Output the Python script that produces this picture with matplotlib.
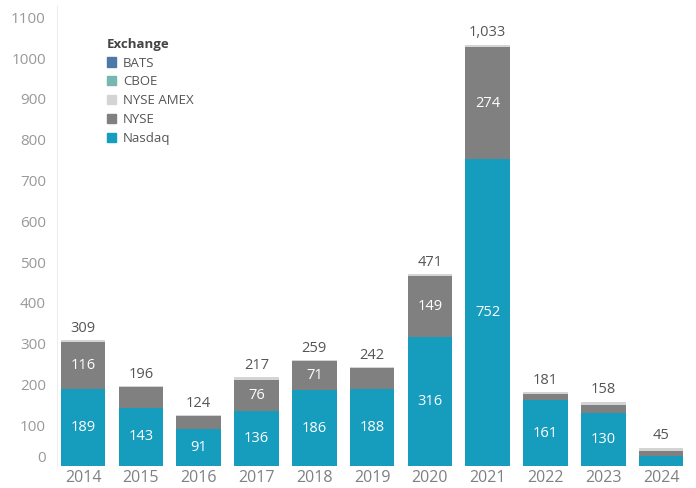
import matplotlib
matplotlib.use("Agg")
import matplotlib.pyplot as plt
import matplotlib.transforms as mtransforms
from matplotlib.patches import Patch
import numpy as np

years = ["2014", "2015", "2016", "2017", "2018", "2019", "2020", "2021", "2022", "2023", "2024"]
nasdaq = [189, 143, 91, 136, 186, 188, 316, 752, 161, 130, 24]
nyse = [116, 51, 32, 76, 71, 52, 149, 274, 16, 20, 13]
nyse_amex = [4, 2, 1, 5, 2, 2, 6, 7, 4, 8, 8]
cboe = [0, 0, 0, 0, 0, 0, 0, 0, 0, 0, 0]
bats = [0, 0, 0, 0, 0, 0, 0, 0, 0, 0, 0]
totals = [309, 196, 124, 217, 259, 242, 471, 1033, 181, 158, 45]
show_nyse_label = [True, False, False, True, True, False, True, True, False, False, False]
show_nasdaq_label = [True] * 10 + [False]
y_ticks = [0, 100, 200, 300, 400, 500, 600, 700, 800, 900, 1000, 1100]

colors = {
    "BATS": "#4e79a7",
    "CBOE": "#76b7b2",
    "NYSE AMEX": "#d4d4d4",
    "NYSE": "#808080",
    "Nasdaq": "#169cbd",
}

plt.rcParams["font.family"] = ["Open Sans", "DejaVu Sans"]

fig = plt.figure(figsize=(6.96, 4.88), dpi=100)
ax = fig.add_axes([57 / 696, 22 / 488, 636 / 696, 461 / 488])

x = np.arange(len(years))
w = 0.77
bottom = np.zeros(len(years))
series = [("Nasdaq", nasdaq), ("NYSE", nyse), ("NYSE AMEX", nyse_amex), ("CBOE", cboe), ("BATS", bats)]
for name, vals in series:
    vals = np.array(vals, dtype=float)
    ax.bar(x, vals, w, bottom=bottom, color=colors[name], linewidth=0)
    if name == "Nasdaq":
        for i, v in enumerate(vals):
            if show_nasdaq_label[i]:
                ax.text(x[i], bottom[i] + v / 2, f"{int(v)}", ha="center", va="center",
                        color="white", fontsize=10.5)
    if name == "NYSE":
        for i, v in enumerate(vals):
            if show_nyse_label[i]:
                ax.text(x[i], bottom[i] + v / 2, f"{int(v)}", ha="center", va="center",
                        color="white", fontsize=10.5)
    bottom += vals

for i, t in enumerate(totals):
    ax.annotate(f"{t:,}", (x[i], bottom[i]), xytext=(0, 3), textcoords="offset points",
                ha="center", va="bottom", color="#555555", fontsize=10.5)

ax.set_xlim(-0.45, len(years) - 0.45)
ax.set_ylim(0, 1130)
ax.set_xticks(x)
ax.set_xticklabels(years, fontsize=11.5, color="#808080")
ax.set_yticks(y_ticks)
ax.set_yticklabels([str(t) for t in y_ticks], fontsize=11, color="#999999")
ax.tick_params(axis="both", length=0)
ax.tick_params(axis="y", pad=8)
ax.tick_params(axis="x", pad=3)

# shift "0" label up as in the reference
lbl0 = ax.get_yticklabels()[0]
lbl0.set_transform(lbl0.get_transform() + mtransforms.ScaledTranslation(0, 10 / 100, fig.dpi_scale_trans))

for s in ["top", "right", "bottom"]:
    ax.spines[s].set_visible(False)
ax.spines["left"].set_color("#eeeeee")

handles = [Patch(color=colors[n]) for n in ["BATS", "CBOE", "NYSE AMEX", "NYSE", "Nasdaq"]]
leg = ax.legend(handles, ["BATS", "CBOE", "NYSE AMEX", "NYSE", "Nasdaq"], title="Exchange",
                loc="upper left", bbox_to_anchor=(0.06, 0.955), frameon=False,
                fontsize=9.5, title_fontsize=9.5, handlelength=0.7, handleheight=0.7,
                handletextpad=0.5, labelspacing=0.45, alignment="left", labelcolor="#555555")
leg.get_title().set_fontweight("bold")
leg.get_title().set_color("#444444")

fig.savefig("out.png", dpi=100)
